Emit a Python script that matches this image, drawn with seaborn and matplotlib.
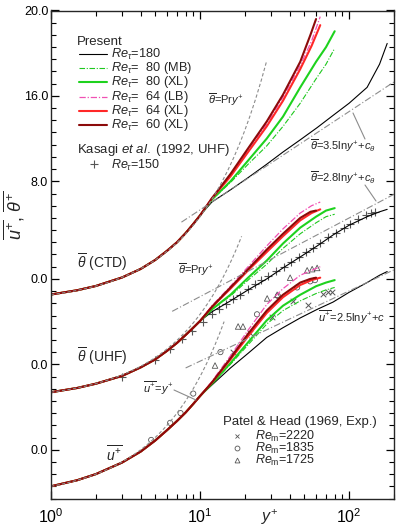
import numpy as np
import pandas as pd
import matplotlib
matplotlib.use("Agg")
import matplotlib.pyplot as plt
import seaborn as sns
from matplotlib.ticker import FixedLocator, FixedFormatter, LogLocator, NullFormatter

sns.set_theme(style="ticks")
plt.rcParams['font.family'] = ['Liberation Sans', 'DejaVu Sans']
plt.rcParams['mathtext.fontset'] = 'custom'
plt.rcParams['mathtext.rm'] = 'Liberation Sans'
plt.rcParams['mathtext.it'] = 'Liberation Sans:italic'
plt.rcParams['mathtext.bf'] = 'Liberation Sans:bold'

# ---------------- data (physical units) ----------------
OFF_U, OFF_UHF, OFF_CTD = 0.0, 8.0, 16.0

yp_nw = [1, 1.5, 2, 3, 4, 5, 6, 7, 8, 9, 10]
u_nw = [1.0, 1.5, 2.0, 2.95, 3.85, 4.75, 5.6, 6.35, 7.05, 7.75, 8.4]
tu_nw = [0.71, 1.06, 1.41, 2.05, 2.75, 3.4, 4.1, 4.75, 5.4, 6.0, 6.55]
tc_nw = [0.72, 1.07, 1.42, 2.12, 2.82, 3.55, 4.3, 5.0, 5.75, 6.5, 7.2]

yp_180 = [12, 16, 21, 28, 36, 47, 61, 78, 100, 132, 160, 180]
yp_80 = [12, 16, 21, 28, 36, 47, 60, 70, 80]
yp_64 = [12, 16, 21, 28, 36, 47, 56, 64]
yp_60 = [12, 16, 21, 28, 36, 47, 55, 60]

u_180 = [9.3, 10.7, 11.9, 13.2, 14.0, 14.8, 15.5, 16.1, 16.9, 17.7, 18.3, 18.6]
u_80mb = [9.4, 11.0, 12.6, 14.3, 15.4, 16.2, 16.8, 17.1, 17.3]
u_80xl = [9.4, 11.1, 12.8, 14.6, 15.8, 16.7, 17.4, 17.7, 17.9]
u_64lb = [9.6, 11.7, 13.8, 15.9, 17.2, 18.3, 18.7, 19.0]
u_64xl = [9.5, 11.4, 13.3, 15.2, 16.5, 17.5, 17.9, 18.1]
u_60xl = [9.5, 11.5, 13.5, 15.4, 16.7, 17.7, 18.0, 18.1]

tu_180 = [7.3, 8.2, 9.1, 10.0, 10.9, 11.8, 12.7, 13.6, 14.4, 15.1, 15.5, 15.7]
tu_80mb = [7.5, 8.6, 9.9, 11.2, 12.5, 13.7, 14.6, 15.1, 15.3]
tu_80xl = [7.5, 8.7, 10.1, 11.5, 12.9, 14.2, 15.1, 15.6, 15.8]
tu_64lb = [7.8, 9.4, 11.0, 12.7, 14.1, 15.4, 16.0, 16.3]
tu_64xl = [7.7, 9.2, 10.7, 12.2, 13.5, 14.8, 15.4, 15.7]
tu_60xl = [7.7, 9.3, 10.8, 12.4, 13.7, 15.0, 15.5, 15.6]

tc_180 = [8.3, 9.3, 10.3, 11.4, 12.4, 13.4, 14.4, 15.4, 16.4, 17.7, 19.6, 21.3]
tc_80mb = [8.5, 9.9, 11.4, 12.9, 14.5, 16.4, 18.4, 19.6, 20.9]
tc_80xl = [8.5, 10.0, 11.7, 13.5, 15.3, 17.7, 19.8, 21.0, 22.3]
tc_64lb = [8.6, 10.5, 12.6, 14.7, 16.9, 19.5, 21.5, 23.5]
tc_64xl = [8.6, 10.4, 12.4, 14.5, 16.6, 19.2, 21.1, 22.8]
tc_60xl = [8.6, 10.6, 12.7, 14.9, 17.1, 19.8, 22.0, 23.3]

kas_yp = [1.0, 3.0, 5.0, 6.3, 7.6, 8.8, 10.4, 12.0, 13.4, 14.9, 16.6, 18.4, 21.0, 23.3, 25.8, 28.7,
          32.4, 36.5, 40.5, 45.8, 51.7, 56.8, 64.2, 72.5, 81.8, 92.3, 101, 115, 129, 141, 150]
kas_t = [0.71, 2.0, 3.35, 4.25, 5.05, 5.7, 6.5, 7.1, 7.55, 7.95, 8.35, 8.7, 9.15, 9.55, 9.9, 10.25,
         10.65, 11.0, 11.4, 11.8, 12.2, 12.55, 12.95, 13.4, 13.8, 14.2, 14.5, 14.9, 15.2, 15.4, 15.5]

ph2220_yp = [16.7, 21.7, 30.4, 42.0, 52.9, 66.6, 72.0, 76.6]
ph2220_u = [12.0, 13.6, 14.9, 16.2, 15.9, 16.8, 16.9, 16.9]
ph1835_yp = [4.7, 6.3, 7.4, 9.0, 13.7, 24.1, 33.3, 44.8, 54.8, 59.0]
ph1835_u = [4.8, 6.2, 7.0, 8.6, 12.0, 15.1, 16.6, 17.3, 17.8, 17.9]
ph1725_yp = [12.6, 18.0, 19.4, 28.2, 32.9, 40.2, 52.3, 56.5, 61.0]
ph1725_u = [10.9, 14.1, 14.1, 16.4, 16.7, 18.1, 18.7, 18.8, 18.9]

PR = 0.71
lin_u_end, lin_uhf_end, lin_ctd_end = 14.5, 19.0, 28.0
log_u = (2.5, 5.5, 8.0)      # slope, constant, start y+
log_uhf = (2.8, 2.1, 6.5)
log_ctd = (3.5, -0.4, 7.5)

# ---------------- figure ----------------
W, H = 396, 529
fig = plt.figure(figsize=(W / 100, H / 100), dpi=100)
L, R, T, B = 51, 394, 10.5, 498.5
ax = fig.add_axes([L / W, 1 - B / H, (R - L) / W, (B - T) / H])
ax.set_xscale('log')
ax.set_xlim(1, 200)
ax.set_ylim(0, 40)

def px(x, y):
    return ((x - L) / (R - L), (B - y) / (B - T))

styles = {
    '180': dict(color='black', lw=0.8, dash=None),
    '80mb': dict(color='#1ec81e', lw=0.8, dash=(5, 1.5, 1, 1.5)),
    '80xl': dict(color='#1ed21e', lw=1.5, dash=None),
    '64lb': dict(color='#f050b4', lw=0.9, dash=(5, 1.5, 1, 1.5)),
    '64xl': dict(color='#ff2828', lw=1.5, dash=None),
    '60xl': dict(color='#8c0a0a', lw=1.5, dash=None),
}

def draw(xv, yv, key, off):
    st = styles[key]
    df = pd.DataFrame({'x': xv, 'y': np.asarray(yv) + off})
    sns.lineplot(data=df, x='x', y='y', ax=ax, color=st['color'], linewidth=st['lw'],
                 estimator=None, sort=False)
    if st['dash'] is not None:
        ax.lines[-1].set_dashes(st['dash'])

groups = [
    (OFF_U, u_nw, {'180': u_180, '80mb': u_80mb, '80xl': u_80xl, '64lb': u_64lb, '64xl': u_64xl, '60xl': u_60xl}),
    (OFF_UHF, tu_nw, {'180': tu_180, '80mb': tu_80mb, '80xl': tu_80xl, '64lb': tu_64lb, '64xl': tu_64xl, '60xl': tu_60xl}),
    (OFF_CTD, tc_nw, {'180': tc_180, '80mb': tc_80mb, '80xl': tc_80xl, '64lb': tc_64lb, '64xl': tc_64xl, '60xl': tc_60xl}),
]
yps = {'180': yp_180, '80mb': yp_80, '80xl': yp_80, '64lb': yp_64, '64xl': yp_64, '60xl': yp_60}
order = ['180', '80mb', '80xl', '64lb', '64xl', '60xl']
for off, nw, d in groups:
    for k in order:
        draw(yp_nw + yps[k], nw + d[k], k, off)

gray = '#8c8c8c'
def refline(xv, yv, dash):
    df = pd.DataFrame({'x': xv, 'y': yv})
    sns.lineplot(data=df, x='x', y='y', ax=ax, color=gray, linewidth=0.8, estimator=None, sort=False)
    ax.lines[-1].set_dashes(dash)

for end, off in [(lin_u_end, OFF_U), (lin_uhf_end, OFF_UHF), (lin_ctd_end, OFF_CTD)]:
    xx = np.geomspace(1, end, 40)
    yy = (xx if off == OFF_U else PR * xx) + off
    refline(xx, yy, (3, 2))
for (a, c, s), off in [(log_u, OFF_U), (log_uhf, OFF_UHF), (log_ctd, OFF_CTD)]:
    xx = np.array([s, 200])
    refline(xx, a * np.log(xx) + c + off, (6, 2, 1, 2))

mk = '#555555'
sns.scatterplot(x=kas_yp, y=np.asarray(kas_t) + OFF_UHF, ax=ax, marker='+', s=30, color=mk, linewidth=0.8)
sns.scatterplot(x=ph2220_yp, y=ph2220_u, ax=ax, marker='x', s=16, color=mk, linewidth=0.7)
sns.scatterplot(x=ph1835_yp, y=ph1835_u, ax=ax, marker='o', s=14, color=mk, linewidth=0.6)
ax.collections[-1].set_facecolor('none'); ax.collections[-1].set_edgecolor(mk)
sns.scatterplot(x=ph1725_yp, y=ph1725_u, ax=ax, marker='^', s=16, color=mk, linewidth=0.6)
ax.collections[-1].set_facecolor('none'); ax.collections[-1].set_edgecolor(mk)

# ---------------- axes styling ----------------
for sp in ax.spines.values():
    sp.set_linewidth(1.0)
    sp.set_visible(True)
ax.tick_params(which='both', direction='in', top=True, right=True, colors='black')
ax.tick_params(which='major', length=6, width=0.9)
ax.tick_params(which='minor', length=3.5, width=0.8)
ax.tick_params(axis='x', which='major', labelsize=11.5, pad=6)
ax.tick_params(axis='y', which='major', labelsize=9, pad=2)
ax.xaxis.set_major_locator(LogLocator(base=10, numticks=10))
ax.xaxis.set_minor_locator(LogLocator(base=10, subs=np.arange(2, 10), numticks=20))
ax.xaxis.set_minor_formatter(NullFormatter())
ytick_pos = [4, 11, 18, 26, 33, 40]
ytick_lab = ['0.0', '0.0', '0.0', '8.0', '16.0', '20.0']
ax.yaxis.set_major_locator(FixedLocator(ytick_pos))
ax.yaxis.set_major_formatter(FixedFormatter(ytick_lab))
ax.yaxis.set_minor_locator(FixedLocator(np.arange(0, 41, 1)))
ax.set_xlabel('')
ax.set_ylabel('')

fig.text(14 / W, 1 - 215 / H, r'$\overline{u^{+}}$, $\overline{\theta^{+}}$', rotation=90,
         ha='center', va='center', fontsize=13)
fig.text(270 / W, 1 - 517 / H, r'$y^{+}$', ha='center', va='center', fontsize=11.5)

# ---------------- legends ----------------
fs = 9.5
fs1 = 9.2
fs2 = 9
tr = ax.transAxes
ax.text(*px(77, 42), 'Present', transform=tr, fontsize=fs, va='center', ha='left')
leg_rows = [
    ('180', r'$Re_{\tau}$=180'),
    ('80mb', r'$Re_{\tau}$=  80 (MB)'),
    ('80xl', r'$Re_{\tau}$=  80 (XL)'),
    ('64lb', r'$Re_{\tau}$=  64 (LB)'),
    ('64xl', r'$Re_{\tau}$=  64 (XL)'),
    ('60xl', r'$Re_{\tau}$=  60 (XL)'),
]
for i, (k, lab) in enumerate(leg_rows):
    y = 54 + i * 14.2
    st = styles[k]
    x0, yy = px(79, y)
    x1, _ = px(107, y)
    ln, = ax.plot([x0, x1], [yy, yy], transform=tr, color=st['color'], lw=st['lw'], clip_on=False)
    if st['dash'] is not None:
        ln.set_dashes(st['dash'])
    ax.text(*px(111, y), lab, transform=tr, fontsize=fs1, va='center', ha='left')

ax.text(*px(77, 150.5), r'Kasagi $et\ al.$ (1992, UHF)', transform=tr, fontsize=fs, va='center')
ax.plot(*[[v] for v in px(94, 164)], transform=tr, marker='+', ms=6, color=mk, mew=0.8, ls='none')
ax.text(*px(111, 165), r'$Re_{\tau}$=150', transform=tr, fontsize=fs2, va='center')

ax.text(*px(223, 421.5), 'Patel & Head (1969, Exp.)', transform=tr, fontsize=fs, va='center')
for i, (m, lab) in enumerate([('x', '2220'), ('o', '1835'), ('^', '1725')]):
    y = 436 + i * 12
    ax.plot(*[[v] for v in px(237, y)], transform=tr, marker=m, ms=3.5, color=mk, mfc='none',
            mew=0.6, ls='none')
    ax.text(*px(255, y), r'$Re_{\rm m}$=' + lab, transform=tr, fontsize=fs2, va='center')

# ---------------- annotations ----------------
afs = 10
sfs = 8
ax.text(*px(77, 262), r'$\overline{\theta}$ (CTD)', transform=tr, fontsize=afs, va='center')
ax.text(*px(77, 356), r'$\overline{\theta}$ (UHF)', transform=tr, fontsize=afs, va='center')
ax.text(*px(106, 454), r'$\overline{u^{+}}$', transform=tr, fontsize=afs, va='center')
ax.text(*px(143, 388), r'$\overline{u^{+}}$=$y^{+}$', transform=tr, fontsize=sfs, va='center')
ax.text(*px(208, 100), r'$\overline{\theta}$=Pr$y^{+}$', transform=tr, fontsize=sfs, va='center')
ax.text(*px(178, 270), r'$\overline{\theta}$=Pr$y^{+}$', transform=tr, fontsize=sfs, va='center')
ax.text(*px(310, 146), r'$\overline{\theta}$=3.5ln$y^{+}$+$c_{\theta}$', transform=tr, fontsize=sfs, va='center')
ax.text(*px(310, 178), r'$\overline{\theta}$=2.8ln$y^{+}$+$c_{\theta}$', transform=tr, fontsize=sfs, va='center')
ax.text(*px(318, 317), r'$\overline{u^{+}}$=2.5ln$y^{+}$+$c$', transform=tr, fontsize=sfs, va='center')

for (xa, ya, xb, yb) in [(353, 113, 365, 139), (365, 185, 376, 201), (174, 390, 196, 400)]:
    p0, p1 = px(xa, ya), px(xb, yb)
    ax.plot([p0[0], p1[0]], [p0[1], p1[1]], transform=tr, color=gray, lw=0.8, clip_on=False)

fig.savefig('out.png', dpi=100)
